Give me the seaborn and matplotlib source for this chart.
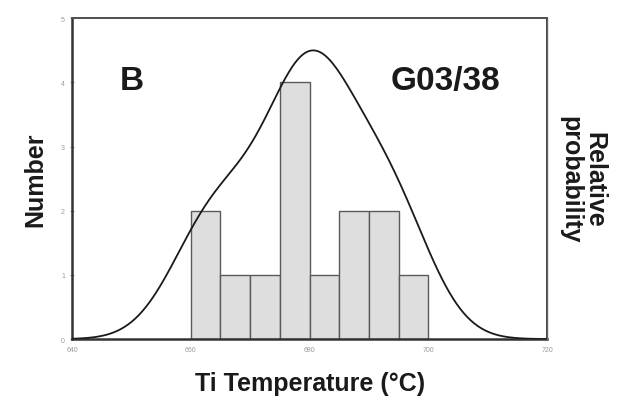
import numpy as np
import pandas as pd
import matplotlib
matplotlib.use("Agg")
import matplotlib.pyplot as plt
import seaborn as sns

# Ti-in-zircon temperatures (°C), sample G03/38
temperatures = [660.5, 663.5, 667, 671.5, 677.5, 678.5, 679.5, 679.8, 680.5,
                685.5, 686.5, 692.5, 693.5, 696.5]
bin_edges = [660, 665, 670, 675, 680, 685, 690, 695, 700]
x_ticks = [640, 660, 680, 700, 720]
y_ticks = [0, 1, 2, 3, 4, 5]

# Gaussian kernel width (°C) of the relative probability curve
kernel_width = 6.5

df = pd.DataFrame({"T": temperatures})

sns.set_theme(style="white")
plt.rcParams["font.family"] = ["Liberation Sans", "DejaVu Sans"]

fig = plt.figure(figsize=(6.21, 4.02), dpi=100)
ax = fig.add_axes([0.116, 0.154, 0.765, 0.798])

sns.histplot(data=df, x="T", bins=bin_edges, ax=ax, stat="count",
             color="#dedede", edgecolor="#5a5a5a", linewidth=1.0, alpha=1.0)

ax.set_xlim(640, 720)
ax.set_ylim(0, 5)
ax.set_xticks(x_ticks)
ax.set_yticks(y_ticks)
ax.tick_params(axis="both", labelsize=5, colors="#9a9a9a", length=3,
               direction="inout", width=0.8)
for lab in ax.get_xticklabels() + ax.get_yticklabels():
    lab.set_color("#9a9a9a")
ax.set_xlabel("Ti Temperature (°C)", fontsize=18, fontweight="bold",
              color="#1a1a1a", labelpad=13)
ax.set_ylabel("Number", fontsize=18, fontweight="bold", color="#1a1a1a",
              labelpad=10)

# Relative probability curve on a secondary axis
ax2 = ax.twinx()
bw_factor = kernel_width / np.std(temperatures, ddof=1)
sns.kdeplot(data=df, x="T", ax=ax2, bw_method=bw_factor, cut=10,
            clip=(640, 720), gridsize=400, color="#1a1a1a", linewidth=1.3)
peak = max(line.get_ydata().max() for line in ax2.get_lines())
ax2.set_ylim(0, peak * 5 / 4.5)
ax2.set_xlim(640, 720)
ax2.set_yticks([])
ax2.set_ylabel("Relative\nprobability", rotation=-90, fontsize=18,
               fontweight="bold", color="#1a1a1a", labelpad=43,
               linespacing=1.0)

for a in (ax, ax2):
    for side in ("top", "right", "left", "bottom"):
        a.spines[side].set_visible(True)
ax.spines["left"].set_color("#333333")
ax.spines["left"].set_linewidth(1.8)
ax.spines["bottom"].set_color("#333333")
ax.spines["bottom"].set_linewidth(1.8)
ax2.spines["top"].set_color("#555555")
ax2.spines["top"].set_linewidth(1.4)
ax2.spines["right"].set_color("#666666")
ax2.spines["right"].set_linewidth(1.0)
ax2.spines["left"].set_visible(False)
ax2.spines["bottom"].set_visible(False)

ax.text(0.125, 0.805, "B", transform=ax.transAxes, fontsize=24,
        fontweight="bold", color="#1a1a1a", ha="center", va="center")
ax.text(0.785, 0.805, "G03/38", transform=ax.transAxes, fontsize=24,
        fontweight="bold", color="#1a1a1a", ha="center", va="center")

fig.savefig("out.png", dpi=100, facecolor="white")
